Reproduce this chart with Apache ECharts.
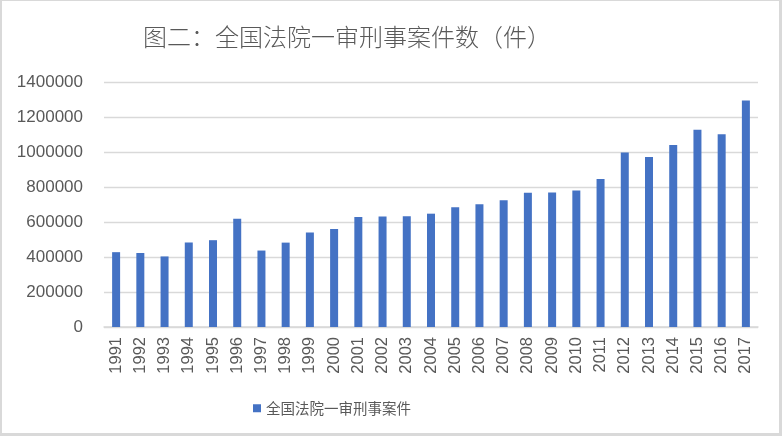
<!DOCTYPE html>
<html>
<head>
<meta charset="utf-8">
<script src="https://cdn.jsdelivr.net/npm/echarts@6/dist/echarts.min.js"></script>
<style>
html,body{margin:0;padding:0;width:782px;height:436px;background:#d9d9d9;overflow:hidden;}
#frame{position:absolute;left:2px;top:1px;width:777px;height:432px;background:#fff;}
#chart{position:absolute;left:0;top:0;width:782px;height:436px;}
</style>
</head>
<body>
<div id="frame"></div>
<div id="chart"></div>
<script>
const titleText = '图二：全国法院一审刑事案件数（件）';
const seriesName = '全国法院一审刑事案件';
const years = ['1991','1992','1993','1994','1995','1996','1997','1998','1999','2000','2001','2002','2003','2004','2005','2006','2007','2008','2009','2010','2011','2012','2013','2014','2015','2016','2017'];
const cases = [427607,422991,403267,482927,496082,618826,436894,482164,540008,560432,628996,631348,632605,647541,683997,701379,724112,767842,768507,779595,845714,996611,971567,1040457,1126748,1101191,1294377];

const chart = echarts.init(document.getElementById('chart'), null, {renderer:'canvas'});
chart.setOption({
  backgroundColor: 'transparent',
  animation: false,
  title: {
    text: titleText,
    left: 138,
    top: 20,
    textStyle: {fontFamily: '"Noto Sans CJK SC"', fontSize: 24, fontWeight: 300, color: '#595959'}
  },
  legend: {
    left: 248,
    top: 396,
    itemWidth: 8,
    itemHeight: 8,
    itemGap: 10,
    icon: 'rect',
    textStyle: {fontFamily: '"Noto Sans CJK SC"', fontSize: 14.5, color: '#595959'},
    data: [seriesName]
  },
  grid: {left: 104, right: 24, top: 82, bottom: 109, containLabel: false},
  xAxis: {
    type: 'category',
    data: years,
    axisLine: {lineStyle: {color: '#d9d9d9', width: 1.5}},
    axisTick: {show: false},
    axisLabel: {rotate: 90, margin: 10, color: '#595959', fontSize: 16.5, fontFamily: '"Liberation Sans", Arial', interval: 0}
  },
  yAxis: {
    type: 'value',
    min: 0,
    max: 1400000,
    interval: 200000,
    axisLine: {show: false},
    axisTick: {show: false},
    splitLine: {lineStyle: {color: '#d9d9d9', width: 1.3}},
    axisLabel: {margin: 21, color: '#595959', fontSize: 17, fontFamily: '"Liberation Sans", Arial', formatter: v => String(v)}
  },
  series: [{
    name: seriesName,
    type: 'bar',
    data: cases,
    barWidth: 8,
    itemStyle: {color: '#4472C4'}
  }]
});
</script>
</body>
</html>
